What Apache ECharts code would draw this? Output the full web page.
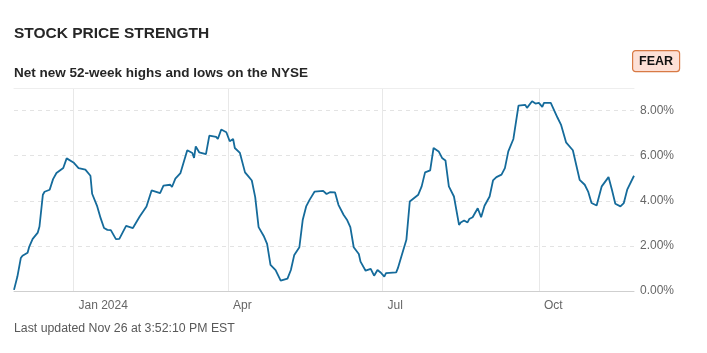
<!DOCTYPE html>
<html>
<head>
<meta charset="utf-8">
<script src="https://cdn.jsdelivr.net/npm/echarts@6/dist/echarts.min.js"></script>
<style>
  html, body { margin: 0; padding: 0; background: #fff; }
  #chart { width: 707px; height: 353px; }
</style>
</head>
<body>
<div id="chart"></div>
<script>
// days counted from Nov 27, 2023
const dayIndex = [0, 2, 4, 5, 8, 9, 11, 14, 15, 17, 18, 21, 23, 25, 29, 31, 32, 35, 38, 39, 42, 45, 46, 49, 51, 53, 55, 57, 60, 62, 66, 70, 74, 78, 81, 86, 88, 92, 93, 95, 98, 102, 105, 106, 107, 109, 113, 115, 119, 120, 122, 125, 127, 129, 130, 133, 136, 138, 140, 142, 144, 147, 149, 151, 154, 157, 161, 163, 165, 168, 170, 172, 174, 177, 182, 184, 186, 189, 191, 194, 196, 198, 200, 203, 204, 207, 210, 212, 214, 216, 218, 219, 225, 226, 228, 231, 233, 234, 238, 240, 242, 245, 247, 248, 250, 252, 254, 256, 259, 262, 263, 265, 267, 268, 270, 273, 275, 277, 280, 282, 284, 287, 289, 291, 294, 297, 298, 301, 302, 305, 307, 309, 311, 312, 316, 317, 320, 322, 325, 329, 333, 336, 338, 340, 343, 346, 350, 352, 354, 357, 359, 361, 365];
const netHighsLows = [0.05, 0.64, 1.46, 1.56, 1.70, 1.97, 2.31, 2.59, 2.86, 4.27, 4.40, 4.49, 4.96, 5.23, 5.45, 5.88, 5.90, 5.70, 5.45, 5.41, 5.38, 5.11, 4.31, 3.75, 3.23, 2.79, 2.71, 2.70, 2.30, 2.31, 2.89, 2.79, 3.30, 3.75, 4.46, 4.34, 4.67, 4.71, 4.61, 4.98, 5.23, 6.24, 6.12, 5.90, 6.41, 6.15, 6.07, 6.89, 6.83, 6.74, 7.16, 7.04, 6.64, 6.74, 6.34, 6.12, 5.26, 5.08, 4.90, 4.16, 2.83, 2.44, 2.09, 1.16, 0.93, 0.46, 0.55, 0.93, 1.60, 1.94, 3.16, 3.75, 4.04, 4.41, 4.44, 4.30, 4.38, 4.37, 3.82, 3.38, 3.16, 2.83, 1.94, 1.64, 1.30, 0.90, 0.98, 0.68, 0.93, 0.81, 0.64, 0.79, 0.83, 1.01, 1.52, 2.27, 3.97, 4.04, 4.27, 4.64, 5.26, 5.35, 6.34, 6.41, 6.19, 5.90, 5.79, 4.64, 4.19, 2.93, 3.04, 3.13, 3.04, 3.19, 3.27, 3.67, 3.27, 3.78, 4.19, 4.90, 5.05, 5.16, 5.45, 6.19, 6.74, 8.22, 8.30, 8.25, 8.12, 8.41, 8.31, 8.34, 8.16, 8.34, 8.34, 8.37, 7.68, 7.38, 6.59, 6.24, 4.93, 4.71, 4.41, 3.90, 3.79, 4.64, 5.05, 4.49, 3.87, 3.75, 3.90, 4.49, 5.11];
const monthTickDays = [35, 126, 217, 309];
const monthTickLabels = ['Jan 2024', 'Apr', 'Jul', 'Oct'];
const percentTicks = [0, 2, 4, 6, 8];

const points = dayIndex.map((d, i) => [d, netHighsLows[i]]);

const chart = echarts.init(document.getElementById('chart'));
const fontFamily = 'Liberation Sans, Arial, sans-serif';

chart.setOption({
  animation: false,
  textStyle: { fontFamily: fontFamily },
  title: [
    {
      text: 'STOCK PRICE STRENGTH',
      left: 14, top: 26, padding: 0,
      textStyle: { fontSize: 15.5, fontWeight: 'bold', color: '#262626', fontFamily: fontFamily }
    },
    {
      text: 'Net new 52-week highs and lows on the NYSE',
      left: 14, top: 66, padding: 0,
      textStyle: { fontSize: 13.5, fontWeight: 'bold', color: '#262626', fontFamily: fontFamily }
    },
    {
      text: 'Last updated Nov 26 at 3:52:10 PM EST',
      left: 14, top: 323, padding: 0,
      textStyle: { fontSize: 12.3, fontWeight: 'normal', color: '#595959', fontFamily: fontFamily }
    }
  ],
  graphic: [
    {
      type: 'group',
      left: 632, top: 50,
      children: [
        {
          type: 'rect',
          shape: { x: 0, y: 0, width: 47, height: 21, r: 3 },
          style: { fill: '#fde0d6', stroke: '#d87a45', lineWidth: 1.2 }
        },
        {
          type: 'text',
          x: 23.5, y: 11,
          style: {
            text: 'FEAR', fill: '#111', fontSize: 12.5, fontWeight: 'bold',
            fontFamily: fontFamily, align: 'center', verticalAlign: 'middle'
          }
        }
      ]
    }
  ],
  grid: { left: 14, right: 73, top: 88, bottom: 62 },
  xAxis: [
    {
      type: 'value',
      min: 0,
      max: 365,
      axisLine: { show: true, lineStyle: { color: '#cfcfcf', width: 1 } },
      axisTick: { show: false, customValues: monthTickDays },
      axisLabel: {
        customValues: monthTickDays,
        formatter: (v) => monthTickLabels[monthTickDays.indexOf(v)] || '',
        color: '#666',
        fontSize: 12,
        align: 'left',
        padding: [0, 0, 0, 5],
        margin: 9
      },
      splitLine: { show: true, lineStyle: { color: '#e8e8e8', width: 1, type: 'solid' } }
    },
    {
      type: 'value',
      position: 'top',
      min: 0,
      max: 365,
      axisLine: { show: true, lineStyle: { color: '#eeeeee', width: 1 } },
      axisTick: { show: false },
      axisLabel: { show: false },
      splitLine: { show: false }
    }
  ],
  yAxis: {
    type: 'value',
    position: 'right',
    min: 0,
    max: 9,
    axisLine: { show: false },
    axisTick: { show: false, customValues: percentTicks },
    axisLabel: {
      customValues: percentTicks,
      formatter: (v) => v.toFixed(2) + '%',
      color: '#666',
      fontSize: 12,
      margin: 6
    },
    splitLine: { show: true, lineStyle: { color: '#e3e3e3', width: 1, type: [4, 4] } }
  },
  series: [
    {
      type: 'line',
      data: points,
      showSymbol: false,
      lineStyle: { color: '#156b9b', width: 1.8 },
      itemStyle: { color: '#156b9b' }
    }
  ]
});
</script>
</body>
</html>
